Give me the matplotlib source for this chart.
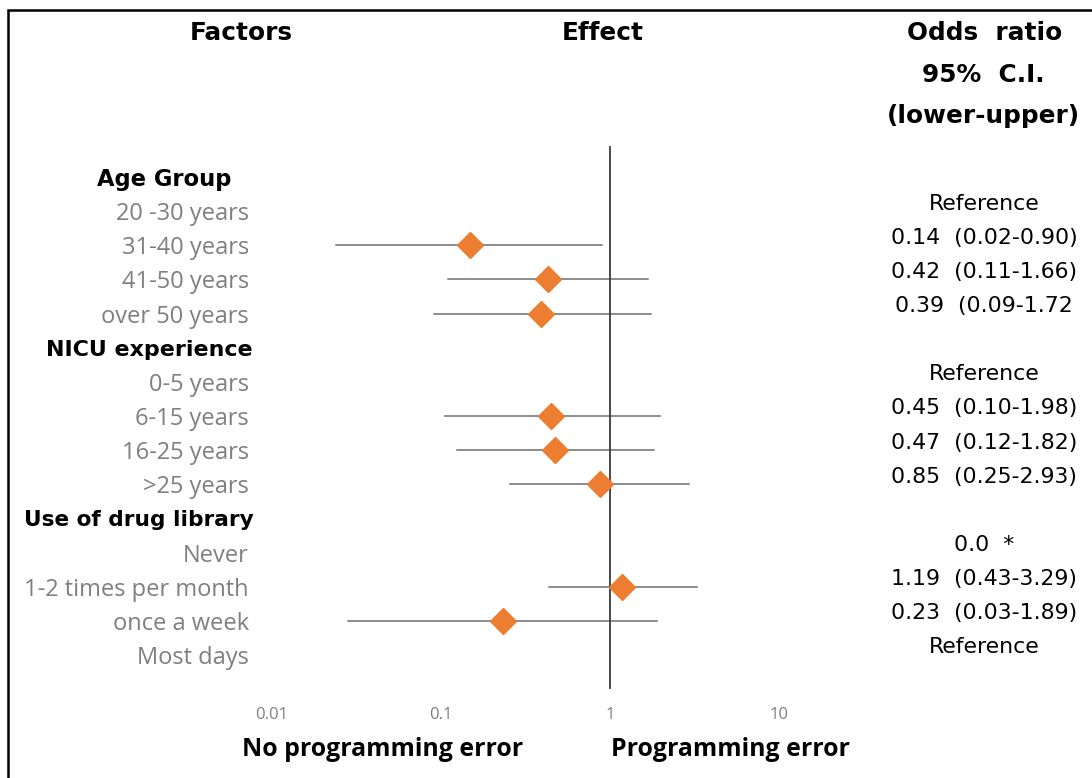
import numpy as np
import matplotlib
matplotlib.use('Agg')
import matplotlib.pyplot as plt
from matplotlib.transforms import blended_transform_factory
from matplotlib.patches import Rectangle

# rows: group headers and levels, top to bottom
groups = ['Age Group', 'NICU experience', 'Use of drug library']
levels = [['20 -30 years', '31-40 years', '41-50 years', 'over 50 years'],
          ['0-5 years', '6-15 years', '16-25 years', '>25 years'],
          ['Never', '1-2 times per month', 'once a week', 'Most days']]

# odds ratios as drawn (None = reference / no estimate)
odds = [[None, 0.148, 0.43, 0.39],
        [None, 0.45, 0.47, 0.87],
        [None, 1.18, 0.233, None]]
ci_low = [[None, 0.024, 0.11, 0.091],
          [None, 0.106, 0.124, 0.256],
          [None, 0.435, 0.028, None]]
ci_high = [[None, 0.90, 1.68, 1.75],
           [None, 1.98, 1.82, 2.93],
           [None, 3.27, 1.90, None]]

or_text = [['Reference', '0.14  (0.02-0.90)', '0.42  (0.11-1.66)', '0.39  (0.09-1.72'],
           ['Reference', '0.45  (0.10-1.98)', '0.47  (0.12-1.82)', '0.85  (0.25-2.93)'],
           ['0.0  *', '1.19  (0.43-3.29)', '0.23  (0.03-1.89)', 'Reference']]

ticks = [0.01, 0.1, 1, 10]
tick_labels = ['0.01', '0.1', '1', '10']

W, H = 1092, 778
fig = plt.figure(figsize=(W / 100, H / 100), dpi=100)
ax = fig.add_axes([0, 0, 1, 1])
ax.set_xscale('log')
# 169 px per decade, 0.01 at px 272
dec = 169.0
ax.set_xlim(10 ** (-2 - 272 / dec), 10 ** (-2 + (W - 272) / dec))
row0, step = 177.0, 34.14
ax.set_ylim((H - row0) / step, -row0 / step)
ax.axis('off')

orange = '#ED7D31'
grey_txt = '#7F7F7F'
lab_font = 'Open Sans'
head_font = 'DejaVu Sans'

right_tr = blended_transform_factory(ax.transAxes, ax.transData)
group_left = [97, 46, 24]
group_size = [16.3, 15.9, 15.6]

row = 0
for g, name in enumerate(groups):
    ax.text(group_left[g] / W, row, name, transform=right_tr, ha='left', va='center_baseline',
            fontsize=group_size[g], fontweight='bold', family=head_font, color='black')
    row += 1
    for k, lev in enumerate(levels[g]):
        ax.text(249 / W, row, lev, transform=right_tr, ha='right', va='center_baseline',
                fontsize=17, family=lab_font, color=grey_txt)
        if odds[g][k] is not None:
            ax.plot([ci_low[g][k], ci_high[g][k]], [row, row], color='#6E6E6E', lw=1.1, zorder=2)
            ax.plot(odds[g][k], row, marker='D', ms=13, color=orange, mec=orange, zorder=4)
        ax.text(984 / W, row - 0.28, or_text[g][k], transform=right_tr, ha='center',
                va='center_baseline', fontsize=15.8, family=head_font, color='black')
        row += 1

# reference line at OR = 1
ax.plot([1, 1], [(147 - row0) / step, (688 - row0) / step], color='#3A3A3A', lw=1.3, zorder=3)

# tick labels
for t, tl in zip(ticks, tick_labels):
    ax.text(t, (713 - row0) / step, tl, ha='center', va='center_baseline', fontsize=12,
            family=lab_font, color=grey_txt)

# column headers
hdr = dict(ha='center', va='center_baseline', fontsize=17.8, fontweight='bold', family=head_font)
fig.text(241 / W, 1 - 31 / H, 'Factors', **hdr)
fig.text(603 / W, 1 - 31 / H, 'Effect', **hdr)
fig.text(985 / W, 1 - 31 / H, 'Odds  ratio', **hdr)
fig.text(983 / W, 1 - 72 / H, '95%  C.I.', **hdr)
fig.text(983 / W, 1 - 114 / H, '(lower-upper)', **hdr)

# bottom direction labels
fig.text(242 / W, 1 - 747 / H, 'No programming error', ha='left', va='center_baseline',
         fontsize=17.9, fontweight='bold', family=lab_font)
fig.text(611 / W, 1 - 747 / H, 'Programming error', ha='left', va='center_baseline',
         fontsize=17.9, fontweight='bold', family=lab_font)

# frame (only left and top edges visible in the crop)
fig.patches.append(Rectangle((8 / W, -0.05), 1.2, 1 - 10 / H + 0.05, transform=fig.transFigure,
                             fill=False, ec='black', lw=1.8))

fig.savefig('out.png', dpi=100, facecolor='white')
